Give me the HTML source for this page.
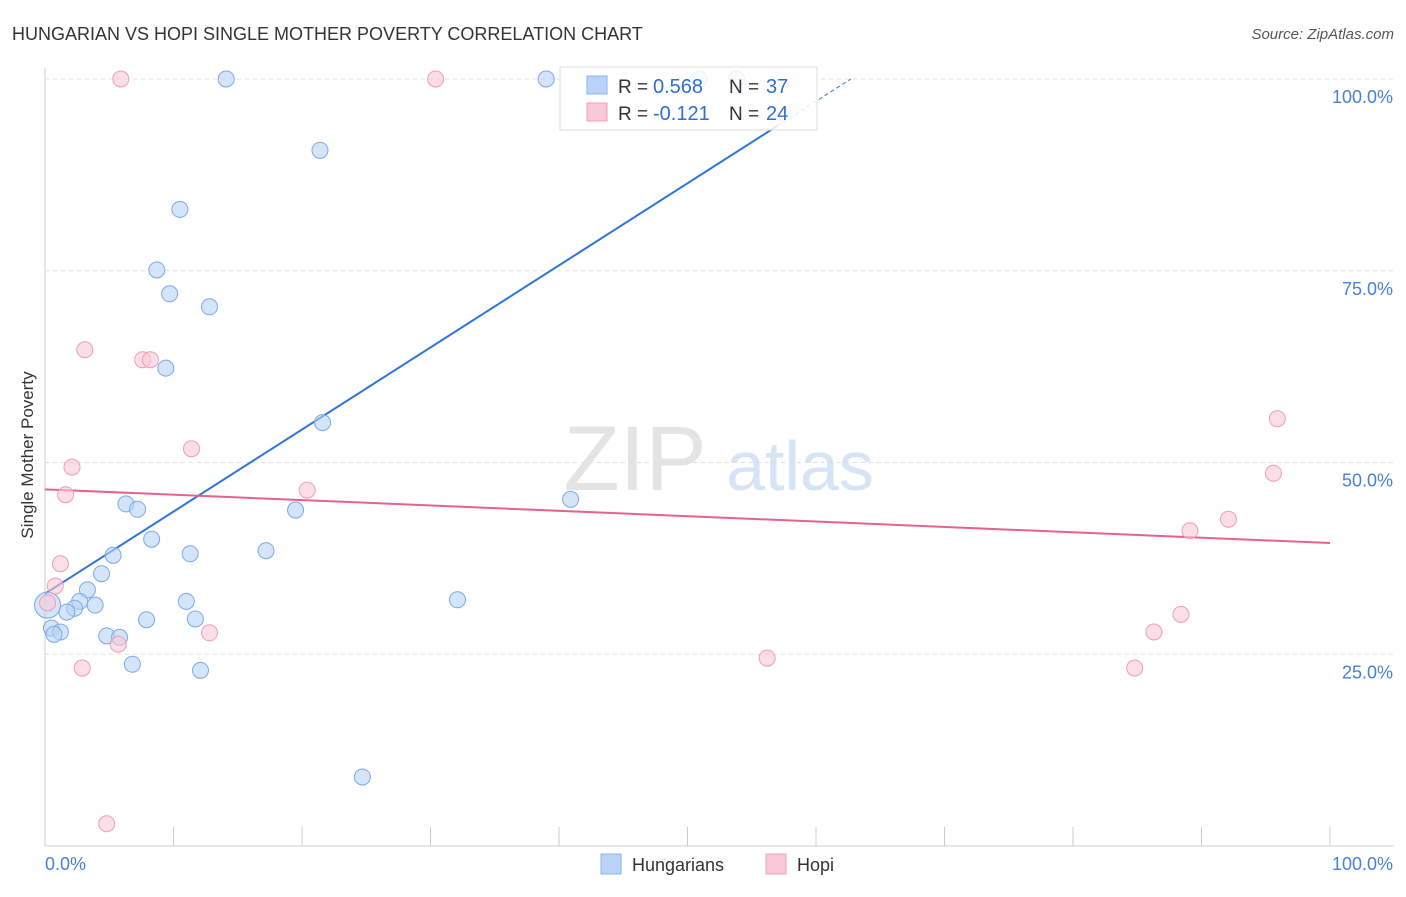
<!DOCTYPE html>
<html><head><meta charset="utf-8"><style>
body{margin:0;background:#fff;font-family:"Liberation Sans",sans-serif;}
svg text{font-family:"Liberation Sans",sans-serif;}
</style></head><body>
<svg id="chart" width="1406" height="892" xmlns="http://www.w3.org/2000/svg">
<text x="12" y="40" font-size="18" fill="#333">HUNGARIAN VS HOPI SINGLE MOTHER POVERTY CORRELATION CHART</text>
<text x="1394" y="39" font-size="15" fill="#555" font-style="italic" text-anchor="end">Source: ZipAtlas.com</text>
<text x="33" y="455" font-size="17" fill="#333" text-anchor="middle" transform="rotate(-90 33 455)">Single Mother Poverty</text>
<g><text x="635" y="490" font-size="92" fill="#e4e4e4" font-family="Liberation Serif" text-anchor="middle">ZIP</text><text x="800" y="490" font-size="70" fill="#d6e4f5" text-anchor="middle">atlas</text></g>
<g id="grid"></g><g id="axes"></g><g id="lines"></g><g id="pts"></g>
<g>
<rect x="560" y="67" width="257" height="63" fill="#fff" fill-opacity="0.85" stroke="#ddd"/>
<rect x="587" y="76" width="20" height="18" fill="#b8d3f5" stroke="#8ab4ea"/>
<rect x="587" y="103" width="20" height="18" fill="#fac8d6" stroke="#f0a0b8"/>
<text x="618" y="93" font-size="19" fill="#333">R =</text>
<text x="653" y="93" font-size="20" fill="#2f6fd0">0.568</text>
<text x="729" y="93" font-size="19" fill="#333">N =</text>
<text x="766" y="93" font-size="20" fill="#2f6fd0">37</text>
<text x="618" y="120" font-size="19" fill="#333">R =</text>
<text x="653" y="120" font-size="20" fill="#2f6fd0">-0.121</text>
<text x="729" y="120" font-size="19" fill="#333">N =</text>
<text x="766" y="120" font-size="20" fill="#2f6fd0">24</text>
</g>
<g>
<rect x="601" y="854" width="20" height="20" fill="#b8d3f5" stroke="#8ab4ea"/>
<text x="632" y="871" font-size="18" fill="#333">Hungarians</text>
<rect x="766" y="854" width="20" height="20" fill="#fac8d6" stroke="#f0a0b8"/>
<text x="797" y="871" font-size="18" fill="#333">Hopi</text>
</g>
</svg>
<script>
const yTicks=[25,50,75,100];
const yTickLabels=["25.0%","50.0%","75.0%","100.0%"];
const hunX=[14.1,39,53.8,50.9,21.4,10.5,8.7,9.7,12.8,9.4,21.6,40.9,6.3,7.2,19.5,8.3,5.3,11.3,17.2,4.4,3.3,2.7,3.9,2.3,1.7,11,32.1,11.7,7.9,0.5,1.2,0.7,4.8,5.8,6.8,12.1,24.7,0.2];
const hunY=[100,100,100,100,90.7,83,75.1,72,70.3,62.3,55.2,45.2,44.6,43.9,43.8,40,37.9,38.1,38.5,35.5,33.4,31.9,31.4,31,30.5,31.9,32.1,29.6,29.5,28.4,27.9,27.6,27.4,27.2,23.7,22.9,9,31.4];
const hopX=[5.9,30.4,3.1,7.6,8.2,2.1,11.4,1.6,20.4,1.2,0.8,0.2,2.9,5.7,12.8,4.8,56.2,84.8,86.3,88.4,89.1,92.1,95.6,95.9];
const hopY=[100,100,64.7,63.4,63.4,49.4,51.8,45.8,46.4,36.8,33.9,31.7,23.2,26.3,27.8,2.9,24.5,23.2,27.9,30.2,41.1,42.6,48.6,55.7];
const hunTrend=[32.9,1.07];
const hopTrend=[46.5,-0.07];
const NS="http://www.w3.org/2000/svg";
const px=v=>45+v*12.85, py=v=>846-v*7.67;
function mk(tag,attrs,parent){const e=document.createElementNS(NS,tag);for(const k in attrs)e.setAttribute(k,attrs[k]);document.getElementById(parent).appendChild(e);return e;}
yTicks.forEach((t,i)=>{
 const g=mk('line',{x1:45,x2:1394,y1:py(t),y2:py(t),stroke:'#e0e0e0','stroke-dasharray':'4,4'},'grid');
 
 
 const l=mk('text',{x:1393,y:py(t)+24,'font-size':18,fill:'#4a80d4','text-anchor':'end'},'axes');l.textContent=yTickLabels[i];
 
 
});
mk('line',{x1:45,x2:45,y1:68,y2:846,stroke:'#ccc'},'axes');
mk('line',{x1:45,x2:1394,y1:846,y2:846,stroke:'#ccc'},'axes');
for(let i=0;i<=10;i++){const t=mk('line',{x1:px(i*10),x2:px(i*10),y1:827,y2:846,stroke:'#ccc'},'axes');
 
 }
let a=mk('text',{x:45,y:870,'font-size':18,fill:'#4a80d4'},'axes');a.textContent='0.0%';


a=mk('text',{x:1393,y:870,'font-size':18,fill:'#4a80d4','text-anchor':'end'},'axes');a.textContent='100.0%';


const xe=57;
let ln=mk('line',{x1:px(0),y1:py(hunTrend[0]),x2:px(xe),y2:py(hunTrend[0]+hunTrend[1]*xe),stroke:'#2f74d8','stroke-width':2},'lines');


const xe2=(100-hunTrend[0])/hunTrend[1];
ln=mk('line',{x1:px(xe),y1:py(hunTrend[0]+hunTrend[1]*xe),x2:px(xe2),y2:py(100),stroke:'#2f74d8','stroke-width':1,'stroke-dasharray':'4,3'},'lines');


ln=mk('line',{x1:px(0),y1:py(hopTrend[0]),x2:px(100),y2:py(hopTrend[0]+hopTrend[1]*100),stroke:'#e8608e','stroke-width':2},'lines');


hunX.forEach((x,i)=>{const c=mk('circle',{cx:px(x),cy:py(hunY[i]),r:(i==hunX.length-1?13:8),fill:'#b8d3f5','fill-opacity':0.6,stroke:'#7aa9e6'},'pts');
 
 });
hopX.forEach((x,i)=>{const c=mk('circle',{cx:px(x),cy:py(hopY[i]),r:8,fill:'#fac8d6','fill-opacity':0.6,stroke:'#ef9db7'},'pts');
 
 });
</script>
</body></html>
